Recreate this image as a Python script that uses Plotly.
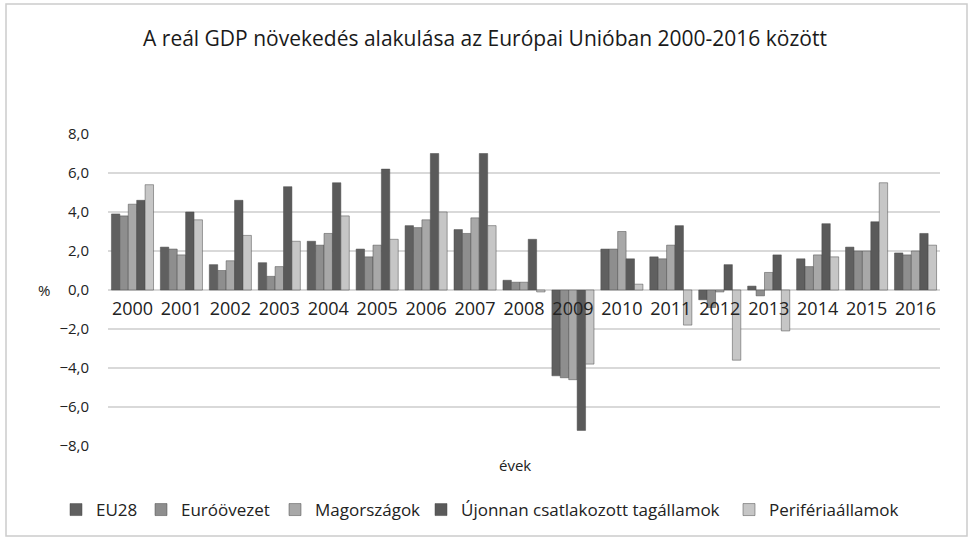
import plotly.graph_objects as go

years = [str(y) for y in range(2000, 2017)]
series_names = ["EU28", "Euróövezet", "Magországok", "Újonnan csatlakozott tagállamok", "Perifériaállamok"]
eu28 = [3.9, 2.2, 1.3, 1.4, 2.5, 2.1, 3.3, 3.1, 0.5, -4.4, 2.1, 1.7, -0.5, 0.2, 1.6, 2.2, 1.9]
euro = [3.8, 2.1, 1.0, 0.7, 2.3, 1.7, 3.2, 2.9, 0.4, -4.5, 2.1, 1.6, -0.9, -0.3, 1.2, 2.0, 1.8]
magor = [4.4, 1.8, 1.5, 1.2, 2.9, 2.3, 3.6, 3.7, 0.4, -4.6, 3.0, 2.3, -0.1, 0.9, 1.8, 2.0, 2.0]
ujonnan = [4.6, 4.0, 4.6, 5.3, 5.5, 6.2, 7.0, 7.0, 2.6, -7.2, 1.6, 3.3, 1.3, 1.8, 3.4, 3.5, 2.9]
perif = [5.4, 3.6, 2.8, 2.5, 3.8, 2.6, 4.0, 3.3, -0.1, -3.8, 0.3, -1.8, -3.6, -2.1, 1.7, 5.5, 2.3]
y_ticks = [-8, -6, -4, -2, 0, 2, 4, 6, 8]

colors = ["#606060", "#8e8e8e", "#a8a8a8", "#5a5a5a", "#c6c6c6"]
all_series = [eu28, euro, magor, ujonnan, perif]

# plot area in pixels: x 108..940, y 134..446
L, R, T, B = 108, 31, 134, 94
W, H = 971, 540
pw, ph = W - L - R, H - T - B

def px_x(px):
    return (px - L) / pw

def px_y(py):
    return (H - B - py) / ph

# legend x (pixels) chosen so that the texts start where the reference's do
legend_px = [56, 141, 275, 421, 729]
legend_keys = ["legend", "legend2", "legend3", "legend4", "legend5"]

fig = go.Figure()
for name, vals, col, lk in zip(series_names, all_series, colors, legend_keys):
    fig.add_trace(go.Bar(
        x=years, y=vals, name=name, legend=lk,
        marker=dict(color=col, line=dict(color="#4a4a4a", width=0.5)),
    ))

leg_common = dict(orientation="h", yanchor="middle", xanchor="left",
                  font=dict(size=17, color="#222222"), itemwidth=30,
                  bgcolor="rgba(0,0,0,0)")
layout_legends = {}
for lk, lx in zip(legend_keys, legend_px):
    layout_legends[lk] = dict(leg_common, x=px_x(lx), y=px_y(510))

fig.update_layout(
    width=W, height=H,
    paper_bgcolor="white", plot_bgcolor="white",
    margin=dict(l=L, r=R, t=T, b=B, autoexpand=False),
    separators=", ",
    barmode="group", bargap=0.14, bargroupgap=0.0,
    font=dict(family="Open Sans, Noto Sans, sans-serif", color="#222222"),
    title=dict(text="A reál GDP növekedés alakulása az Európai Unióban 2000-2016 között",
               x=(485 / W), xanchor="center", y=1 - 39 / H, yanchor="middle",
               font=dict(size=21, color="#1a1a1a")),
    showlegend=True,
    xaxis=dict(anchor="free", position=0.5, showgrid=False, showline=False,
               ticks="", tickfont=dict(size=18, color="#222222"), type="category",
               automargin=False, ticklabelstandoff=6),
    yaxis=dict(range=[-8, 8], tickvals=y_ticks, tickformat=".1f",
               showgrid=True, gridcolor="#d9d9d9", gridwidth=2,
               zeroline=True, zerolinecolor="#d9d9d9", zerolinewidth=2,
               showline=False, ticks="", ticklabelstandoff=18, automargin=False,
               tickfont=dict(size=15, color="#222222")),
    shapes=[dict(type="rect", xref="paper", yref="paper",
                 x0=px_x(6), x1=px_x(967), y0=px_y(536), y1=px_y(4),
                 line=dict(color="#cccccc", width=1.5), fillcolor="rgba(0,0,0,0)", layer="below")],
    annotations=[
        dict(text="%", xref="paper", yref="paper", x=px_x(44), y=0.5, xanchor="center",
             yanchor="middle", showarrow=False, font=dict(size=15, color="#222222")),
        dict(text="évek", xref="paper", yref="paper", x=px_x(515), y=px_y(465), xanchor="center",
             yanchor="middle", showarrow=False, font=dict(size=15, color="#222222")),
    ],
    **layout_legends,
)

fig.write_html("out.html", config={"displayModeBar": False},
               post_script="document.body.style.margin='0';document.body.style.overflow='hidden';")
